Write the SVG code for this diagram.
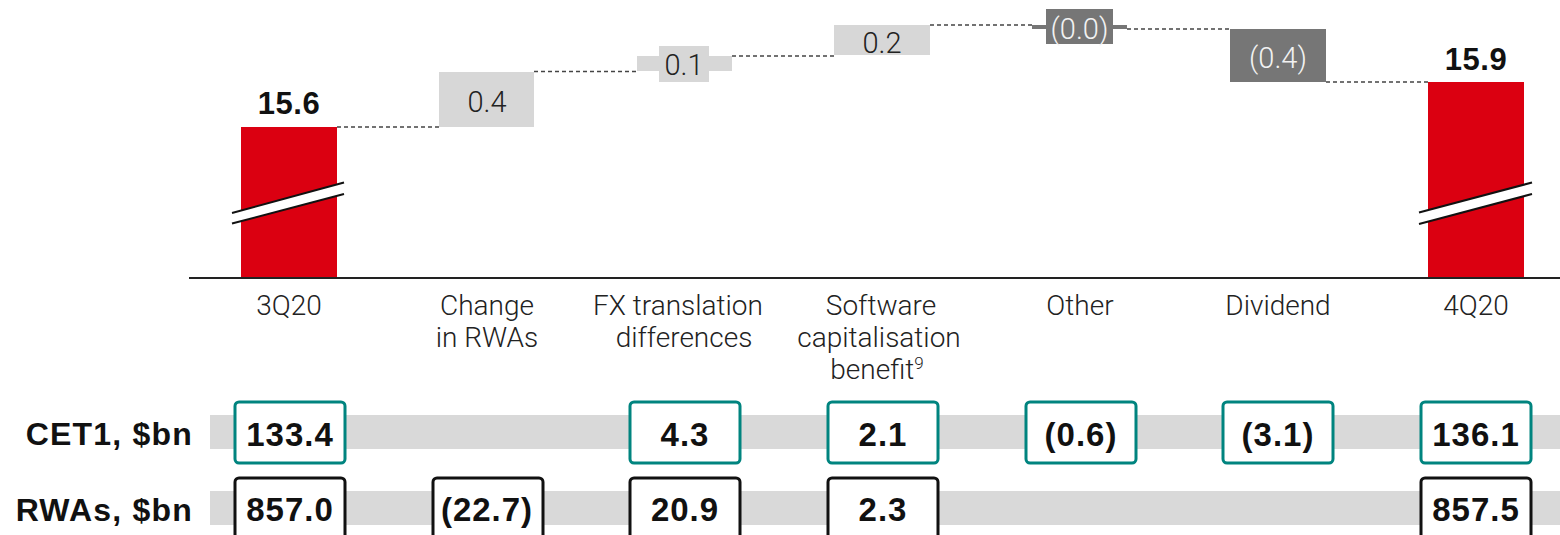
<svg xmlns="http://www.w3.org/2000/svg" width="1560" height="535" viewBox="0 0 1560 535">
<style>
.red{fill:#db0011}
.lg{fill:#d7d7d7}
.dg{fill:#767676}
.val{font-family:Roboto,"Liberation Sans",sans-serif;font-weight:300;font-size:29px;fill:#222;text-anchor:middle}
.valw{font-family:Roboto,"Liberation Sans",sans-serif;font-weight:300;font-size:29px;fill:#f2f2f2;text-anchor:middle}
.tot{font-family:"Liberation Sans",Arial,sans-serif;font-weight:bold;font-size:31px;letter-spacing:0.5px;fill:#111;text-anchor:middle}
.cat{font-family:Roboto,"Liberation Sans",sans-serif;font-weight:300;font-size:28px;fill:#222;text-anchor:middle}
.rowlab{font-family:"Liberation Sans",Arial,sans-serif;font-weight:bold;font-size:32px;letter-spacing:1.2px;fill:#111;text-anchor:end}
.num{font-family:"Liberation Sans",Arial,sans-serif;font-weight:bold;font-size:33px;letter-spacing:1px;fill:#111;text-anchor:middle}
.band{fill:#d9d9d9}
.bt{fill:#fff;stroke:#00847f;stroke-width:3}
.bk{fill:#fff;stroke:#111;stroke-width:3}
.dash{stroke:#444;stroke-width:1.3;stroke-dasharray:4 3;fill:none}
.brk{stroke:#111;stroke-width:2}
</style>

<g id="bands">
<rect class="band" x="210" y="415" width="1350" height="34"/>
<rect class="band" x="210" y="491" width="1350" height="34"/>
</g>

<g id="connectors">
<line class="dash" x1="337" y1="127" x2="439" y2="127"/>
<line class="dash" x1="534" y1="71.5" x2="637" y2="71.5"/>
<line class="dash" x1="732" y1="56" x2="834" y2="56"/>
<line class="dash" x1="930" y1="25" x2="1032" y2="25"/>
<line class="dash" x1="1127" y1="29" x2="1230" y2="29"/>
<line class="dash" x1="1326" y1="82" x2="1428" y2="82"/>
</g>

<g id="bar-3q20">
<rect class="red" x="241" y="127" width="96" height="151"/>
<polygon points="232,213 344,182.5 344,194 232,223.5" fill="#fff"/>
<line class="brk" x1="232" y1="213" x2="344" y2="182.5"/>
<line class="brk" x1="232" y1="223.5" x2="344" y2="194"/>
<text class="tot" x="289" y="114">15.6</text>
</g>

<g id="bar-rwas">
<rect class="lg" x="439" y="72" width="95" height="55"/>
<text class="val" x="487" y="112">0.4</text>
</g>

<g id="bar-fx">
<rect class="lg" x="637" y="56" width="95" height="15"/>
<rect class="lg" x="659" y="46" width="50" height="36"/>
<text class="val" x="684" y="75">0.1</text>
</g>

<g id="bar-software">
<rect class="lg" x="834" y="25" width="96" height="30"/>
<text class="val" x="882" y="53">0.2</text>
</g>

<g id="bar-other">
<rect class="dg" x="1032" y="25" width="95" height="4"/>
<rect class="dg" x="1046" y="9" width="67" height="35"/>
<text class="valw" x="1079.5" y="39">(0.0)</text>
</g>

<g id="bar-dividend">
<rect class="dg" x="1230" y="29" width="96" height="53"/>
<text class="valw" x="1278" y="68">(0.4)</text>
</g>

<g id="bar-4q20">
<rect class="red" x="1428" y="82" width="96" height="196"/>
<polygon points="1419,212.5 1532,182.5 1532,194 1419,224" fill="#fff"/>
<line class="brk" x1="1419" y1="212.5" x2="1532" y2="182.5"/>
<line class="brk" x1="1419" y1="224" x2="1532" y2="194"/>
<text class="tot" x="1476" y="70">15.9</text>
</g>

<g id="axis">
<line x1="189" y1="278" x2="1560" y2="278" stroke="#222" stroke-width="2"/>
</g>

<g id="categories">
<text class="cat" x="289" y="315">3Q20</text>
<text class="cat" x="487" y="315">Change</text>
<text class="cat" x="487" y="347">in RWAs</text>
<text class="cat" x="678" y="315">FX translation</text>
<text class="cat" x="684" y="347">differences</text>
<text class="cat" x="881" y="315">Software</text>
<text class="cat" x="879" y="347">capitalisation</text>
<text class="cat" x="877" y="379">benefit<tspan font-size="17" dy="-10">9</tspan></text>
<text class="cat" x="1080" y="315">Other</text>
<text class="cat" x="1278" y="315">Dividend</text>
<text class="cat" x="1476" y="315">4Q20</text>
</g>

<g id="row-labels">
<text class="rowlab" x="193" y="445">CET1, $bn</text>
<text class="rowlab" x="193" y="521">RWAs, $bn</text>
</g>

<g id="cet1-row">
<rect class="bt" x="235" y="402" width="110" height="61" rx="4"/>
<text class="num" x="290" y="446">133.4</text>
<rect class="bt" x="630" y="402" width="110" height="61" rx="4"/>
<text class="num" x="685" y="446">4.3</text>
<rect class="bt" x="828" y="402" width="110" height="61" rx="4"/>
<text class="num" x="883" y="446">2.1</text>
<rect class="bt" x="1026" y="402" width="110" height="61" rx="4"/>
<text class="num" x="1081" y="446">(0.6)</text>
<rect class="bt" x="1223" y="402" width="110" height="61" rx="4"/>
<text class="num" x="1278" y="446">(3.1)</text>
<rect class="bt" x="1421" y="402" width="110" height="61" rx="4"/>
<text class="num" x="1476" y="446">136.1</text>
</g>

<g id="rwa-row">
<rect class="bk" x="235" y="478" width="110" height="70" rx="4"/>
<text class="num" x="290" y="521">857.0</text>
<rect class="bk" x="433" y="478" width="110" height="70" rx="4"/>
<text class="num" x="487" y="521">(22.7)</text>
<rect class="bk" x="630" y="478" width="110" height="70" rx="4"/>
<text class="num" x="685" y="521">20.9</text>
<rect class="bk" x="828" y="478" width="110" height="70" rx="4"/>
<text class="num" x="883" y="521">2.3</text>
<rect class="bk" x="1421" y="478" width="110" height="70" rx="4"/>
<text class="num" x="1476" y="521">857.5</text>
</g>
</svg>
